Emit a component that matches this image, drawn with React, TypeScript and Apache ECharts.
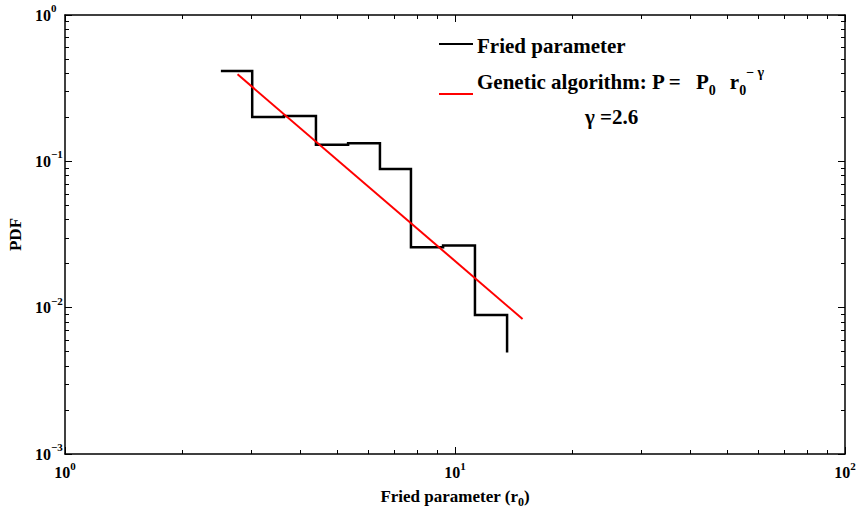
import React, { useEffect, useRef } from "react";
import * as echarts from "echarts";

// Histogram (stairs) of the Fried parameter: bin left edges and PDF values
const binX = [2.51, 3.02, 3.64, 4.4, 5.32, 6.42, 7.71, 9.32, 11.25, 13.6];
const pdf = [0.415, 0.201, 0.204, 0.13, 0.133, 0.0886, 0.0259, 0.0266, 0.00891, 0.00494];
// Genetic algorithm power-law fit (end points)
const fitX = [2.77, 14.9];
const fitY = [0.393, 0.00837];

const xMajor = [1, 10, 100];
const yMajor = [0.001, 0.01, 0.1, 1];
const xMinor = [2, 3, 4, 5, 6, 7, 8, 9, 20, 30, 40, 50, 60, 70, 80, 90];
const yMinor = [
  0.002, 0.003, 0.004, 0.005, 0.006, 0.007, 0.008, 0.009,
  0.02, 0.03, 0.04, 0.05, 0.06, 0.07, 0.08, 0.09,
  0.2, 0.3, 0.4, 0.5, 0.6, 0.7, 0.8, 0.9,
];

const FONT = "Liberation Serif";

const tok = (size: number, pad?: number[]) => ({
  fontSize: size,
  fontWeight: "bold",
  fontFamily: FONT,
  color: "#000",
  fill: "#000",
  verticalAlign: "middle",
  ...(pad ? { padding: pad } : {}),
});

const tickLabelRich = {
  b: tok(16),
  s: tok(11, [0, 0, 14, 0]),
};

const fmtPow = (v: number) => {
  const e = Math.round(Math.log10(v));
  return "{b|10}{s|" + (e < 0 ? "\u2212" + -e : String(e)) + "}";
};

export default function App() {
  const ref = useRef<HTMLDivElement>(null);
  useEffect(() => {
    if (!ref.current) return;
    const chart = echarts.init(ref.current, null, { renderer: "svg" });

    const stairs: number[][] = [];
    for (let i = 0; i < binX.length; i++) {
      stairs.push([binX[i], pdf[i]]);
      if (i < binX.length - 1) stairs.push([binX[i + 1], pdf[i]]);
    }
    const fit = fitX.map((x, i) => [x, fitY[i]]);

    const lineStyle = { color: "#000", width: 1.5 };
    const baseX = { type: "log", logBase: 10, min: 1, max: 100, splitLine: { show: false } };
    const baseY = { type: "log", logBase: 10, min: 0.001, max: 1, splitLine: { show: false } };
    const labelBase = { fontSize: 16, fontWeight: "bold", fontFamily: FONT, color: "#000" };
    const tickStyle = { color: "#000", width: 1 };

    const option: any = {
      animation: false,
      backgroundColor: "#fff",
      textStyle: { fontFamily: FONT },
      grid: { left: 65, top: 15, right: 12, bottom: 60, outerBoundsMode: "none" },
      xAxis: [
        {
          ...baseX,
          position: "bottom",
          axisLine: { show: true, lineStyle },
          axisTick: { show: true, inside: true, length: 7, customValues: xMajor, lineStyle: tickStyle },
          axisLabel: { show: true, ...labelBase, customValues: xMajor, formatter: fmtPow, rich: tickLabelRich, margin: 6 },
          name: "{t|Fried parameter (r}{sub|0}{t|)}",
          nameLocation: "middle",
          nameGap: 30,
          nameTextStyle: {
            fontSize: 17, fontWeight: "bold", fontFamily: FONT, color: "#000",
            rich: { t: tok(17), sub: tok(12, [12, 0, 0, 0]) },
          },
        },
        {
          ...baseX,
          position: "bottom",
          axisLine: { show: false },
          axisTick: { show: true, inside: true, length: 4, customValues: xMinor, lineStyle: tickStyle },
          axisLabel: { show: false },
        },
        {
          ...baseX,
          position: "top",
          axisLine: { show: true, lineStyle },
          axisTick: { show: true, inside: true, length: 7, customValues: xMajor, lineStyle: tickStyle },
          axisLabel: { show: false },
        },
        {
          ...baseX,
          position: "top",
          axisLine: { show: false },
          axisTick: { show: true, inside: true, length: 4, customValues: xMinor, lineStyle: tickStyle },
          axisLabel: { show: false },
        },
      ],
      yAxis: [
        {
          ...baseY,
          position: "left",
          axisLine: { show: true, lineStyle },
          axisTick: { show: true, inside: true, length: 7, customValues: yMajor, lineStyle: tickStyle },
          axisLabel: { show: true, ...labelBase, customValues: yMajor, formatter: fmtPow, rich: tickLabelRich, align: "left", margin: 30 },
          name: "PDF",
          nameLocation: "middle",
          nameGap: 40,
          nameRotate: 90,
          nameTextStyle: { fontSize: 17, fontWeight: "bold", fontFamily: FONT, color: "#000" },
        },
        {
          ...baseY,
          position: "left",
          axisLine: { show: false },
          axisTick: { show: true, inside: true, length: 4, customValues: yMinor, lineStyle: tickStyle },
          axisLabel: { show: false },
        },
        {
          ...baseY,
          position: "right",
          axisLine: { show: true, lineStyle },
          axisTick: { show: true, inside: true, length: 7, customValues: yMajor, lineStyle: tickStyle },
          axisLabel: { show: false },
        },
        {
          ...baseY,
          position: "right",
          axisLine: { show: false },
          axisTick: { show: true, inside: true, length: 4, customValues: yMinor, lineStyle: tickStyle },
          axisLabel: { show: false },
        },
      ],
      series: [
        {
          name: "Fried parameter",
          type: "line",
          xAxisIndex: 0,
          yAxisIndex: 0,
          data: stairs,
          showSymbol: false,
          symbol: "none",
          lineStyle: { color: "#000", width: 2.5, join: "miter", cap: "butt" },
          z: 3,
        },
        {
          name: "Genetic algorithm",
          type: "line",
          xAxisIndex: 0,
          yAxisIndex: 0,
          data: fit,
          showSymbol: false,
          symbol: "none",
          lineStyle: { color: "#ff0000", width: 2 },
          z: 4,
        },
      ],
      graphic: [
        { type: "line", shape: { x1: 439, y1: 44, x2: 473, y2: 44 }, style: { stroke: "#000", lineWidth: 2 } },
        {
          type: "text",
          x: 477,
          y: 46,
          style: {
            text: "Fried parameter",
            fontSize: 21, fontWeight: "bold", fontFamily: FONT,
            fill: "#000", verticalAlign: "middle",
          },
        },
        { type: "line", shape: { x1: 439, y1: 94, x2: 473, y2: 94 }, style: { stroke: "#ff0000", lineWidth: 2 } },
        {
          type: "text",
          x: 477,
          y: 82,
          style: {
            text: "{t|Genetic algorithm: P =}{g| }{t|P}{sub|0}{g| }{t|r}{sub|0}{sup|\u2212 \u03b3}",
            fontSize: 21, fontWeight: "bold", fontFamily: FONT,
            fill: "#000",
            verticalAlign: "middle",
            rich: {
              t: tok(21),
              g: { ...tok(21), width: 14 },
              sub: tok(14, [16, 0, 0, 0]),
              sup: tok(14, [0, 0, 20, 0]),
            },
          },
        },
        {
          type: "text",
          x: 585,
          y: 117,
          style: {
            text: "\u03b3 =2.6",
            fontSize: 21, fontWeight: "bold", fontFamily: FONT,
            fill: "#000", verticalAlign: "middle",
          },
        },
      ],
    };

    chart.setOption(option);
    return () => chart.dispose();
  }, []);

  return <div ref={ref} style={{ width: 857, height: 514, position: "absolute", left: 0, top: 0 }} />;
}
